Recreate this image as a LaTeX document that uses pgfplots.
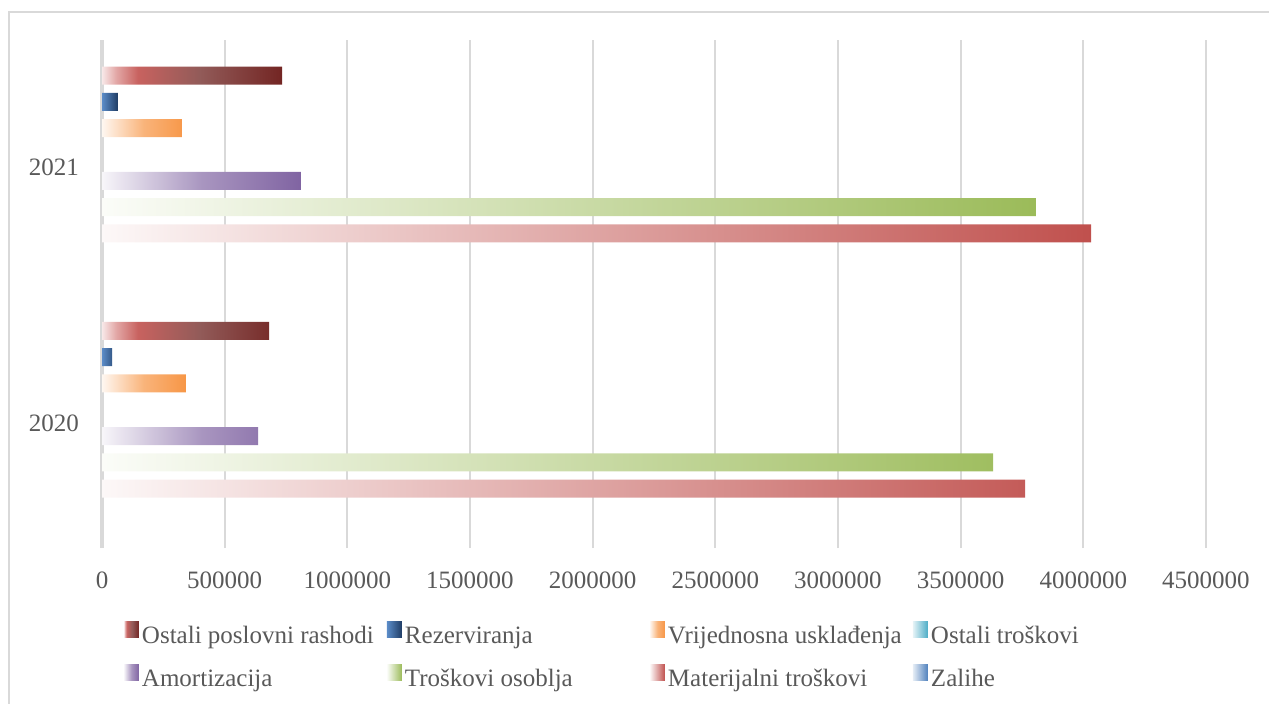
\documentclass[border=0pt]{standalone}
\usepackage{pgfplots}
\pgfplotsset{compat=1.18}
\usepackage{fontspec}
\setmainfont{Liberation Serif}

\definecolor{txtgrey}{HTML}{595959}
\definecolor{gridgrey}{HTML}{D9D9D9}
\definecolor{c_mat}{HTML}{C0504D}
\definecolor{c_oso}{HTML}{9BBB59}
\definecolor{c_amo}{HTML}{8064A2}
\definecolor{c_ost}{HTML}{4BACC6}
\definecolor{c_vri}{HTML}{F79646}
\definecolor{c_rez}{HTML}{1F3C64}
\definecolor{c_rez0}{HTML}{5B8CC8}
\definecolor{c_zal}{HTML}{4F81BD}
\definecolor{osp0}{HTML}{F8E8E8}
\definecolor{osp1}{HTML}{E2A6A5}
\definecolor{osp2}{HTML}{C8625F}
\definecolor{osp3}{HTML}{925B59}
\definecolor{osp4}{HTML}{732523}

% white -> red -> dark red, for Ostali poslovni rashodi
\pgfdeclareverticalshading{osprshade}{100bp}{color(0bp)=(osp0); color(25bp)=(osp0); color(29bp)=(osp1); color(35bp)=(osp2); color(52bp)=(osp3); color(75bp)=(osp4); color(100bp)=(osp4)}

\tikzset{
  sh_mat/.style={left color=c_mat!4!white, right color=c_mat},
  sh_oso/.style={left color=c_oso!4!white, right color=c_oso},
  sh_amo/.style={left color=c_amo!6!white, right color=c_amo, middle color=c_amo!68!white},
  sh_ost/.style={left color=c_ost!15!white, right color=c_ost},
  sh_vri/.style={left color=c_vri!8!white, right color=c_vri, middle color=c_vri!72!white},
  sh_rez/.style={left color=c_rez0, right color=c_rez},
  sh_osp/.style={shading=osprshade, shading angle=-90},
  sh_zal/.style={left color=c_zal!15!white, right color=c_zal},
}
\pgfplotsset{
  lgd/.style={legend image code/.code={\fill[#1] (0bp,0bp) rectangle (15bp,16bp);}},
}
\newcommand{\lbl}[1]{\makebox[248bp][l]{\hspace{3bp}#1}}

\begin{document}
\begin{tikzpicture}
\path[use as bounding box] (0,0) rectangle (1269bp,704bp);
\draw[gridgrey, line width=1.5bp] (9bp,0bp) -- (9bp,692bp) -- (1269bp,692bp);
\begin{axis}[
  at={(102bp,156bp)}, anchor=south west,
  width=1104bp, height=508bp, scale only axis,
  xmin=0, xmax=4500000, ymin=-0.49, ymax=1.5,
  xtick={0,500000,1000000,1500000,2000000,2500000,3000000,3500000,4000000,4500000},
  scaled x ticks=false,
  xticklabel style={/pgf/number format/fixed, /pgf/number format/precision=0, /pgf/number format/1000 sep={}, /pgf/number format/assume math mode=true},
  x tick label style={anchor=center, yshift=-32bp},
  ytick={0,1}, yticklabels={2020,2021},
  y tick label style={anchor=east, inner sep=0pt, xshift=-23bp},
  tick label style={font=\fontsize{25bp}{30bp}\selectfont, text=txtgrey},
  major tick length=0pt,
  axis line style={draw=none},
  xmajorgrids, grid style={draw=gridgrey, line width=2.2bp},
  extra x ticks={0}, extra x tick labels={},
  extra x tick style={grid style={draw=gridgrey, line width=4bp}},
  reverse legend, legend columns=4,
  legend style={at={(0.5,-0.1447)}, anchor=north, xshift=-4bp, draw=none, fill=none,
    inner sep=0pt, column sep=0pt, row sep=15bp,
    font=\fontsize{25bp}{30bp}\selectfont, text=txtgrey,
    nodes={inner sep=0pt, text height=18bp, text depth=6bp}},
  legend cell align=left,
]
% Zalihe
\addplot[xbar, bar width=18bp, bar shift=-92.05bp, draw=none, fill=none, lgd={sh_zal}]
  coordinates {(0,0) (0,1)};
% Materijalni troskovi
\addplot[xbar, bar width=18bp, bar shift=-65.75bp, draw=none, sh_mat, lgd={sh_mat}]
  coordinates {(3763000,0) (4032000,1)};
% Troskovi osoblja
\addplot[xbar, bar width=18bp, bar shift=-39.45bp, draw=none, sh_oso, lgd={sh_oso}]
  coordinates {(3632000,0) (3807000,1)};
% Amortizacija
\addplot[xbar, bar width=18bp, bar shift=-13.15bp, draw=none, sh_amo, lgd={sh_amo}]
  coordinates {(636000,0) (811000,1)};
% Ostali troskovi
\addplot[xbar, bar width=18bp, bar shift=13.15bp, draw=none, fill=none, lgd={sh_ost}]
  coordinates {(0,0) (0,1)};
% Vrijednosna uskladenja
\addplot[xbar, bar width=18bp, bar shift=39.45bp, draw=none, sh_vri, lgd={sh_vri}]
  coordinates {(342000,0) (326000,1)};
% Rezerviranja
\addplot[xbar, bar width=18bp, bar shift=65.75bp, draw=none, sh_rez, lgd={sh_rez}]
  coordinates {(41000,0) (65000,1)};
% Ostali poslovni rashodi
\addplot[xbar, bar width=18bp, bar shift=92.05bp, draw=none, sh_osp, lgd={sh_osp}]
  coordinates {(681000,0) (734000,1)};
\legend{\lbl{Zalihe}, \lbl{Materijalni troškovi}, \lbl{Troškovi osoblja}, \lbl{Amortizacija},
  \lbl{Ostali troškovi}, \lbl{Vrijednosna usklađenja}, \lbl{Rezerviranja}, \lbl{Ostali poslovni rashodi}}
\end{axis}
\end{tikzpicture}
\end{document}
